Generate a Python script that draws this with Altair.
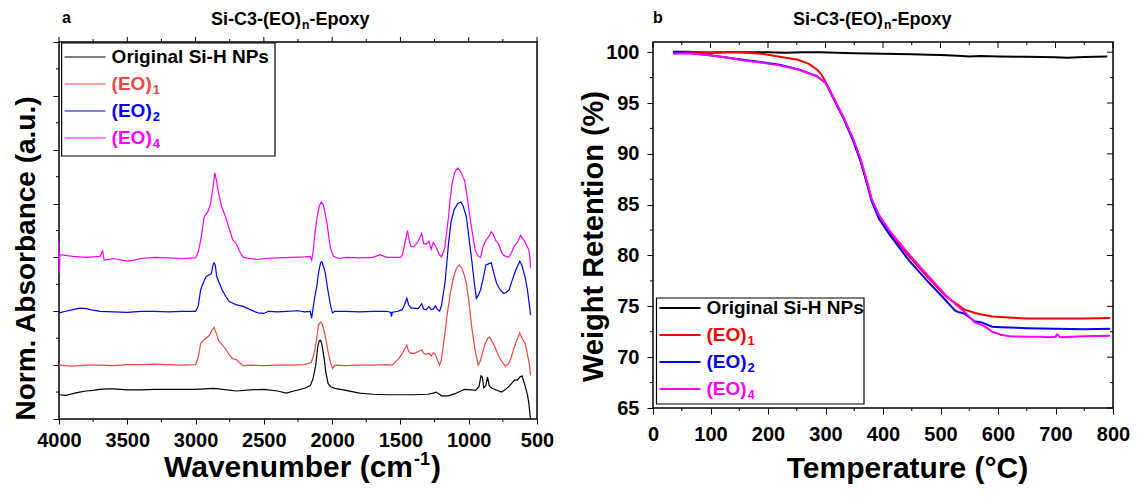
import altair as alt
import pandas as pd

FONT = "Liberation Sans"

# ---------------- data ----------------
series_names = ["Original Si-H NPs", "(EO)1", "(EO)2", "(EO)4"]
legend_main = ["Original Si-H NPs", "(EO)", "(EO)", "(EO)"]
legend_sub = ["", "1", "2", "4"]
ftir_colors = ["#000000", "#F04646", "#0000FF", "#FF00FF"]
tga_colors = ["#000000", "#FF0000", "#0000FF", "#FF00FF"]

# FTIR (wavenumber cm-1, normalised absorbance, stacked)
ftir_si = [(4000, 0.45), (3950, 0.44), (3900, 0.47), (3850, 0.5), (3800, 0.52), (3750, 0.53), (3700, 0.55),
           (3650, 0.56), (3600, 0.56), (3550, 0.55), (3500, 0.54), (3400, 0.54), (3300, 0.55), (3200, 0.55),
           (3100, 0.55), (3000, 0.55), (2870, 0.57), (2800, 0.55), (2700, 0.52), (2600, 0.54), (2500, 0.55),
           (2400, 0.52), (2336, 0.48), (2280, 0.52), (2200, 0.57), (2160, 0.62), (2140, 0.75), (2120, 1.0),
           (2105, 1.35), (2095, 1.45), (2085, 1.46), (2075, 1.38), (2060, 1.15), (2045, 0.85), (2030, 0.66),
           (2010, 0.6), (1980, 0.57), (1900, 0.53), (1800, 0.48), (1700, 0.46), (1600, 0.45), (1500, 0.45),
           (1400, 0.45), (1300, 0.46), (1260, 0.48), (1240, 0.5), (1220, 0.47), (1200, 0.43), (1150, 0.43),
           (1100, 0.47), (1050, 0.53), (1030, 0.55), (980, 0.54), (950, 0.53), (925, 0.6), (910, 0.8),
           (900, 0.78), (890, 0.58), (875, 0.62), (862, 0.78), (850, 0.62), (830, 0.57), (790, 0.53),
           (760, 0.5), (730, 0.55), (700, 0.62), (665, 0.72), (645, 0.72), (625, 0.78), (610, 0.8),
           (595, 0.68), (580, 0.55), (570, 0.45), (560, 0.3), (550, 0.05), (545, 0.0)]
ftir_eo1 = [(4000, 1.0), (3900, 0.98), (3800, 1.0), (3700, 1.0), (3600, 0.99), (3500, 1.01), (3400, 1.01),
            (3300, 1.02), (3200, 1.01), (3100, 1.0), (3000, 1.01), (2980, 1.15), (2963, 1.4), (2940, 1.47),
            (2924, 1.5), (2900, 1.55), (2880, 1.65), (2864, 1.7), (2850, 1.6), (2830, 1.45), (2806, 1.38),
            (2780, 1.3), (2750, 1.18), (2728, 1.12), (2700, 1.1), (2680, 1.05), (2650, 0.99), (2600, 1.0),
            (2500, 0.99), (2400, 1.0), (2300, 1.0), (2200, 1.01), (2153, 1.05), (2140, 1.15), (2127, 1.27),
            (2110, 1.55), (2101, 1.74), (2085, 1.8), (2075, 1.78), (2060, 1.65), (2049, 1.52), (2030, 1.25),
            (2010, 1.03), (1997, 0.94), (1980, 1.0), (1900, 0.99), (1800, 1.0), (1700, 1.0), (1600, 1.01),
            (1560, 1.0), (1513, 1.12), (1490, 1.2), (1470, 1.3), (1453, 1.37), (1440, 1.25), (1422, 1.22),
            (1400, 1.22), (1370, 1.25), (1344, 1.28), (1330, 1.22), (1310, 1.2), (1291, 1.22), (1275, 1.17),
            (1260, 1.23), (1244, 1.2), (1230, 1.1), (1213, 1.0), (1200, 1.1), (1174, 1.59), (1160, 1.9),
            (1135, 2.33), (1110, 2.65), (1090, 2.8), (1069, 2.86), (1050, 2.8), (1030, 2.65), (1017, 2.52),
            (1000, 2.2), (978, 1.71), (955, 1.3), (931, 1.0), (915, 1.08), (900, 1.22), (880, 1.4),
            (860, 1.5), (848, 1.52), (830, 1.45), (809, 1.34), (790, 1.22), (770, 1.12), (750, 1.04),
            (731, 0.98), (710, 1.02), (692, 1.12), (670, 1.3), (650, 1.45), (626, 1.6), (610, 1.5),
            (586, 1.4), (570, 1.2), (555, 1.0), (547, 0.81)]
ftir_eo2 = [(4000, 1.97), (3950, 2.0), (3900, 2.03), (3850, 2.06), (3800, 2.05), (3750, 2.02), (3700, 2.0),
            (3600, 1.99), (3500, 1.98), (3400, 2.0), (3300, 2.0), (3200, 1.99), (3100, 2.0), (3000, 2.0),
            (2980, 2.1), (2963, 2.4), (2940, 2.55), (2924, 2.64), (2900, 2.68), (2885, 2.7), (2870, 2.88),
            (2864, 2.9), (2855, 2.85), (2846, 2.65), (2830, 2.55), (2806, 2.4), (2780, 2.28), (2754, 2.18),
            (2700, 2.12), (2650, 2.09), (2600, 2.03), (2545, 1.97), (2500, 1.96), (2467, 2.0), (2400, 1.99),
            (2336, 2.0), (2250, 2.01), (2200, 1.99), (2160, 2.0), (2150, 1.87), (2140, 2.05), (2127, 2.27),
            (2110, 2.5), (2101, 2.7), (2085, 2.9), (2075, 2.92), (2060, 2.8), (2049, 2.7), (2035, 2.45),
            (2023, 2.27), (2010, 2.08), (1997, 1.97), (1980, 2.0), (1900, 2.0), (1800, 1.99), (1700, 2.0),
            (1600, 2.0), (1570, 1.98), (1566, 1.9), (1560, 1.98), (1520, 2.0), (1487, 2.03), (1470, 2.12),
            (1453, 2.24), (1440, 2.12), (1422, 2.06), (1400, 2.06), (1370, 2.05), (1344, 2.14), (1330, 2.04),
            (1310, 2.03), (1291, 2.09), (1275, 2.03), (1260, 2.04), (1244, 2.1), (1230, 2.04), (1213, 2.0),
            (1200, 2.1), (1174, 2.52), (1160, 2.9), (1148, 3.26), (1130, 3.65), (1108, 3.88), (1080, 4.0),
            (1056, 4.03), (1040, 3.95), (1017, 3.75), (1000, 3.4), (978, 2.95), (960, 2.55), (944, 2.24),
            (930, 2.3), (913, 2.4), (895, 2.6), (874, 2.86), (855, 2.88), (835, 2.9), (815, 2.7),
            (796, 2.52), (770, 2.4), (744, 2.33), (725, 2.35), (704, 2.4), (685, 2.55), (669, 2.67),
            (650, 2.8), (626, 2.93), (610, 2.85), (600, 2.75), (586, 2.62), (570, 2.4), (555, 2.1), (547, 1.93)]
ftir_eo4 = [(4000, 3.3), (3997, 2.7), (3993, 3.05), (3900, 3.02), (3800, 3.0), (3700, 3.02), (3680, 3.12),
            (3670, 2.95), (3600, 2.98), (3500, 2.93), (3450, 2.95), (3400, 2.98), (3300, 3.0), (3200, 2.99),
            (3100, 2.98), (3000, 2.99), (2980, 3.1), (2960, 3.35), (2937, 3.75), (2910, 3.85), (2890, 4.0),
            (2870, 4.35), (2859, 4.57), (2845, 4.4), (2832, 4.2), (2810, 3.95), (2780, 3.75), (2750, 3.5),
            (2728, 3.33), (2700, 3.25), (2680, 3.12), (2650, 3.0), (2600, 2.98), (2550, 2.96), (2500, 2.98),
            (2400, 2.99), (2300, 3.0), (2200, 3.01), (2160, 3.02), (2150, 2.95), (2140, 3.1), (2127, 3.42),
            (2110, 3.75), (2095, 3.95), (2080, 4.03), (2065, 3.98), (2050, 3.8), (2036, 3.6), (2020, 3.3),
            (2010, 3.15), (1990, 3.02), (1950, 2.98), (1900, 3.0), (1800, 2.99), (1700, 3.0), (1650, 3.05),
            (1600, 3.0), (1500, 3.0), (1485, 3.05), (1465, 3.3), (1448, 3.5), (1435, 3.3), (1422, 3.2),
            (1400, 3.2), (1370, 3.3), (1344, 3.45), (1330, 3.25), (1310, 3.25), (1291, 3.3), (1275, 3.15),
            (1260, 3.28), (1239, 3.2), (1215, 3.05), (1200, 3.01), (1185, 3.1), (1174, 3.2), (1160, 3.5),
            (1148, 3.75), (1135, 4.1), (1122, 4.37), (1100, 4.6), (1080, 4.66), (1060, 4.6), (1040, 4.48),
            (1030, 4.43), (1010, 4.1), (991, 3.75), (970, 3.4), (952, 3.13), (930, 3.02), (913, 3.0),
            (895, 3.2), (874, 3.32), (850, 3.4), (835, 3.48), (822, 3.44), (800, 3.3), (783, 3.26),
            (760, 3.1), (744, 3.04), (720, 3.01), (704, 3.01), (685, 3.1), (669, 3.2), (640, 3.3),
            (620, 3.41), (605, 3.35), (590, 3.3), (573, 3.2), (560, 3.15), (550, 2.95), (547, 2.8)]

# TGA (temperature degC, weight retention %)
tga_si = [(35, 100.05), (60, 100.05), (100, 99.95), (130, 100.0), (160, 99.98), (200, 100.0), (230, 99.95),
          (260, 99.98), (290, 100.0), (320, 99.95), (350, 99.9), (400, 99.85), (450, 99.8), (480, 99.75),
          (500, 99.72), (530, 99.65), (550, 99.58), (570, 99.62), (600, 99.58), (650, 99.55), (700, 99.5),
          (720, 99.45), (750, 99.52), (790, 99.58)]
tga_eo1 = [(35, 99.9), (60, 100.0), (100, 100.0), (150, 99.98), (188, 99.85), (220, 99.55), (252, 99.25),
           (271, 98.85), (284, 98.35), (292, 97.9), (300, 97.1), (316, 95.3), (332, 93.5), (348, 91.4),
           (361, 89.3), (374, 86.8), (380, 85.5), (393, 83.8), (412, 82.2), (444, 80.0), (477, 77.9),
           (509, 76.0), (541, 74.7), (560, 74.35), (572, 74.2), (590, 74.0), (605, 73.95), (650, 73.8),
           (700, 73.8), (750, 73.8), (795, 73.85)]
tga_eo2 = [(35, 100.0), (60, 99.95), (91, 99.74), (125, 99.5), (156, 99.25), (190, 99.0), (220, 98.76),
           (252, 98.33), (284, 97.67), (300, 97.0), (316, 95.2), (332, 93.4), (348, 91.3), (361, 89.3),
           (374, 86.7), (380, 85.4), (393, 83.6), (412, 82.0), (444, 79.6), (477, 77.5), (509, 75.6),
           (525, 74.6), (530, 74.45), (541, 74.3), (560, 73.5), (568, 73.45), (575, 73.35), (590, 73.0),
           (605, 72.95), (650, 72.85), (700, 72.8), (750, 72.75), (795, 72.8)]
tga_eo4 = [(35, 99.85), (60, 99.9), (91, 99.74), (125, 99.5), (156, 99.2), (190, 98.95), (220, 98.7),
           (252, 98.3), (284, 97.65), (300, 97.0), (316, 95.3), (332, 93.5), (348, 91.5), (361, 89.5),
           (374, 86.9), (380, 85.6), (393, 84.0), (412, 82.4), (444, 80.2), (477, 78.1), (509, 76.1),
           (530, 75.0), (541, 74.5), (560, 73.4), (575, 73.1), (590, 72.5), (605, 72.2), (620, 72.05),
           (650, 72.0), (675, 72.0), (690, 71.95), (700, 72.0), (703, 72.25), (708, 71.95), (750, 72.05),
           (795, 72.1)]

# axis ticks
wn_major = [4000, 3500, 3000, 2500, 2000, 1500, 1000, 500]
wn_minor = [3750, 3250, 2750, 2250, 1750, 1250, 750]
ab_major = [0, 1, 2, 3, 4, 5, 6, 7]
ab_minor = [0.5, 1.5, 2.5, 3.5, 4.5, 5.5, 6.5]
t_major = [0, 100, 200, 300, 400, 500, 600, 700, 800]
t_minor = [50, 150, 250, 350, 450, 550, 650, 750]
w_major = [65, 70, 75, 80, 85, 90, 95, 100]
w_minor = [67.5, 72.5, 77.5, 82.5, 87.5, 92.5, 97.5]

one = pd.DataFrame({"k": [0]})


def frame(pairs, xname, yname):
    return pd.DataFrame({xname: [p[0] for p in pairs], yname: [p[1] for p in pairs]})


def txt(text, x, y, size, color="black", align="left", dx=0, dy=0, baseline="alphabetic"):
    return alt.Chart(one).mark_text(text=text, font=FONT, fontWeight="bold", fontSize=size, color=color,
                                    align=align, baseline=baseline, dx=dx, dy=dy).encode(
        x=alt.value(x), y=alt.value(y))


def legend(x_box, y_box, w_box, h_box, y_first, step, line_w, colors, size, sub_size):
    layers = [alt.Chart(one).mark_rect(fill="white", stroke="black", strokeWidth=1.2).encode(
        x=alt.value(x_box), x2=alt.value(x_box + w_box), y=alt.value(y_box), y2=alt.value(y_box + h_box))]
    for i in range(4):
        yy = y_first + i * step
        layers.append(alt.Chart(one).mark_rule(color=colors[i], strokeWidth=line_w).encode(
            x=alt.value(x_box + 3), x2=alt.value(x_box + 44), y=alt.value(yy)))
        layers.append(txt(legend_main[i], x_box + 50, yy, size, colors[i], baseline="middle"))
        if legend_sub[i]:
            layers.append(txt(legend_sub[i], x_box + 50, yy, sub_size, colors[i], baseline="middle",
                              dx=size * 2.111 + 1, dy=6))
    return layers


AXIS_COMMON = dict(format="d", labelOverlap=False, labelFlush=False, labelBound=False)

# ---------------- panel a : FTIR ----------------
W1, H1 = 478, 377
xs1 = alt.Scale(domain=[500, 4000], reverse=True, nice=False, zero=False)
ys1 = alt.Scale(domain=[0, 7], nice=False, zero=False)
xa1 = alt.Axis(values=wn_major, title=None, tickSize=5, labelPadding=6, labelFontSize=20, **AXIS_COMMON)
ya1 = alt.Axis(values=ab_major, labels=False, tickSize=6, title="Norm. Absorbance (a.u.)",
               titleFontSize=28, titleX=-33, titleY=216, titleBaseline="middle", titleAngle=-90)


def X1(field="wn"):
    return alt.X(f"{field}:Q", scale=xs1, axis=xa1)


def Y1(field="ab"):
    return alt.Y(f"{field}:Q", scale=ys1, axis=ya1)


left_layers = []
for i, pairs in enumerate([ftir_si, ftir_eo1, ftir_eo2, ftir_eo4]):
    left_layers.append(
        alt.Chart(frame(pairs, "wn", "ab")).mark_line(color=ftir_colors[i], strokeWidth=1.2).encode(
            x=X1(), y=Y1()))


def rx1(vals, y0, y1):
    return alt.Chart(pd.DataFrame({"wn": vals})).mark_rule(color="black", strokeWidth=1).encode(
        x=X1(), y=alt.value(y0), y2=alt.value(y1))


def ry1(vals, x0, x1):
    return alt.Chart(pd.DataFrame({"ab": vals})).mark_rule(color="black", strokeWidth=1).encode(
        y=Y1(), x=alt.value(x0), x2=alt.value(x1))


left_layers += [
    rx1(wn_minor, H1, H1 + 3),
    rx1(wn_major, 0, -5),
    rx1(wn_minor, 0, -3),
    ry1(ab_minor, 0, -3),
]
left_layers += legend(2.6, 1, 213.4, 113, 15, 27, 1, ftir_colors, 19, 13)
left_layers += [
    txt("a", 3, -19, 16),
    txt("Si-C3-(EO)", W1 / 2 + 3, -17, 18, align="right"),
    txt("n", W1 / 2 + 4, -13, 12),
    txt("-Epoxy", W1 / 2 + 11.5, -17, 18),
    txt("Wavenumber (cm", 354, H1 + 58, 30, align="right"),
    txt("-1", 355, H1 + 46, 18),
    txt(")", 372, H1 + 58, 30),
]
left = alt.layer(*left_layers).properties(width=W1, height=H1)

# ---------------- panel b : TGA ----------------
W2, H2 = 460, 366
xs2 = alt.Scale(domain=[0, 800], nice=False, zero=False)
ys2 = alt.Scale(domain=[65, 101], nice=False, zero=False)
xa2 = alt.Axis(values=t_major, title="Temperature (°C)", tickSize=6, labelPadding=10, labelFontSize=20,
               titleFontSize=30, titleX=254, titleY=69, titleBaseline="alphabetic", **AXIS_COMMON)
ya2 = alt.Axis(values=w_major, title="Weight Retention (%)", tickSize=6, labelPadding=8, labelFontSize=20,
               titleFontSize=29, titleX=-60, titleY=194, titleBaseline="middle", titleAngle=-90,
               **AXIS_COMMON)


def X2(field="t"):
    return alt.X(f"{field}:Q", scale=xs2, axis=xa2)


def Y2(field="w"):
    return alt.Y(f"{field}:Q", scale=ys2, axis=ya2)


right_layers = []
for i, pairs in enumerate([tga_si, tga_eo1, tga_eo2, tga_eo4]):
    right_layers.append(
        alt.Chart(frame(pairs, "t", "w")).mark_line(color=tga_colors[i], strokeWidth=2).encode(
            x=X2(), y=Y2()))


def rx2(vals, y0, y1):
    return alt.Chart(pd.DataFrame({"t": vals})).mark_rule(color="black", strokeWidth=1).encode(
        x=X2(), y=alt.value(y0), y2=alt.value(y1))


def ry2(vals, x0, x1):
    return alt.Chart(pd.DataFrame({"w": vals})).mark_rule(color="black", strokeWidth=1).encode(
        y=Y2(), x=alt.value(x0), x2=alt.value(x1))


right_layers += [
    rx2(t_minor, H2, H2 + 3),
    rx2(t_major, 0, 6),
    rx2(t_minor, 0, 3),
    ry2(w_minor, 0, -3),
    ry2(w_major, W2, W2 - 6),
    ry2(w_minor, W2, W2 - 3),
]
right_layers += legend(3.5, 256, 207.5, 106, 266, 27, 2, tga_colors, 19, 13)
right_layers += [
    txt("b", 0, -19, 16),
    txt("Si-C3-(EO)", W2 / 2 + 0, -17, 18, align="right"),
    txt("n", W2 / 2 + 1, -13, 12),
    txt("-Epoxy", W2 / 2 + 8.5, -17, 18),
]
right = alt.layer(*right_layers).properties(width=W2, height=H2)

chart = alt.hconcat(left, right, spacing=116, bounds="flush").properties(
    padding={"left": 11, "top": 9, "right": 5, "bottom": 5}
).configure_view(stroke="black", strokeWidth=1.5).configure_axis(
    labelFont=FONT, labelFontWeight="bold", labelColor="black", titleFont=FONT, titleFontWeight="bold",
    titleColor="black", tickColor="black", tickWidth=1, domain=False, grid=False
)

chart.save("out.html", embed_options={"renderer": "svg", "actions": False})
